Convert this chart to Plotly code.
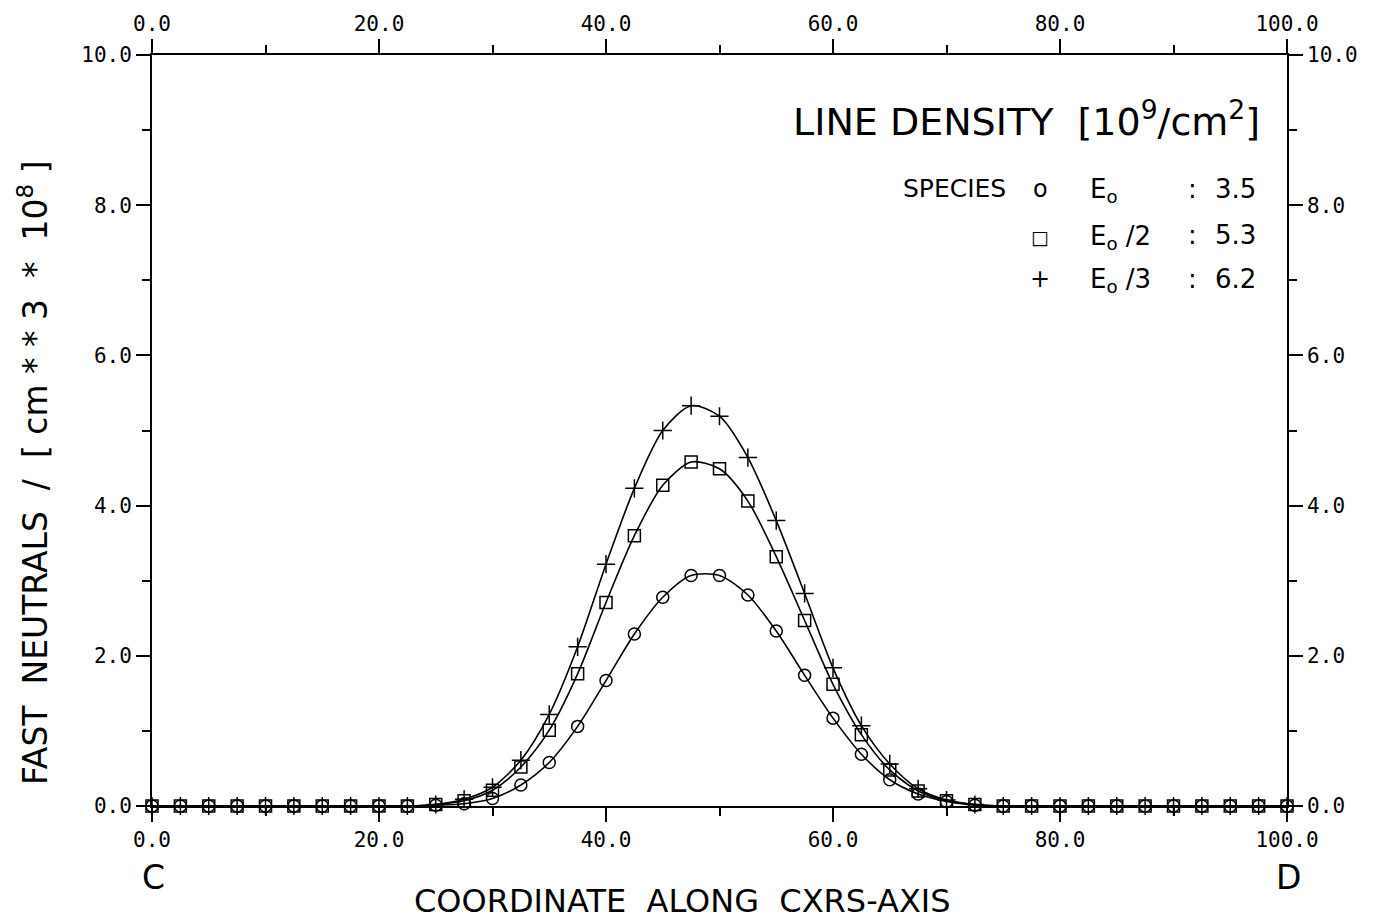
import plotly.graph_objects as go

x_coord = [0.0, 2.5, 5.0, 7.5, 10.0, 12.5, 15.0, 17.5, 20.0, 22.5,
           25.0, 27.5, 30.0, 32.5, 35.0, 37.5, 40.0, 42.5, 45.0, 47.5,
           50.0, 52.5, 55.0, 57.5, 60.0, 62.5, 65.0, 67.5, 70.0, 72.5,
           75.0, 77.5, 80.0, 82.5, 85.0, 87.5, 90.0, 92.5, 95.0, 97.5, 100.0]

e0 = [0, 0, 0, 0, 0, 0, 0, 0, 0, 0,
      0.01, 0.03, 0.10, 0.28, 0.58, 1.06, 1.67, 2.29, 2.78, 3.07,
      3.07, 2.81, 2.33, 1.74, 1.17, 0.69, 0.35, 0.16, 0.06, 0.01,
      0, 0, 0, 0, 0, 0, 0, 0, 0, 0, 0]

e0_2 = [0, 0, 0, 0, 0, 0, 0, 0, 0, 0,
        0.02, 0.07, 0.21, 0.52, 1.01, 1.76, 2.71, 3.60, 4.27, 4.58,
        4.49, 4.06, 3.32, 2.47, 1.62, 0.95, 0.48, 0.20, 0.07, 0.02,
        0, 0, 0, 0, 0, 0, 0, 0, 0, 0, 0]

e0_3 = [0, 0, 0, 0, 0, 0, 0, 0, 0, 0,
        0.02, 0.09, 0.25, 0.61, 1.22, 2.12, 3.22, 4.23, 5.00, 5.33,
        5.19, 4.64, 3.80, 2.83, 1.84, 1.07, 0.56, 0.23, 0.08, 0.02,
        0, 0, 0, 0, 0, 0, 0, 0, 0, 0, 0]

x_ticks = [0, 20, 40, 60, 80, 100]
x_tick_labels = ["0.0", "20.0", "40.0", "60.0", "80.0", "100.0"]
y_ticks = [0, 2, 4, 6, 8, 10]
y_tick_labels = ["0.0", "2.0", "4.0", "6.0", "8.0", "10.0"]

species_symbols = ["o", "\u25a1", "+"]
species_names = ["E<sub>o</sub>", "E<sub>o</sub> /2", "E<sub>o</sub> /3"]
species_density = ["3.5", "5.3", "6.2"]

W, H = 1387, 922
L, R, T, B = 152, 1287, 48, 806

def px(xp):
    return (xp - L) / (R - L)

def py(yp):
    return (B - yp) / (B - T)

fig = go.Figure()

series = [(e0, "circle-open", 12), (e0_2, "square-open", 12), (e0_3, "cross-thin-open", 13)]
for ys, sym, sz in series:
    fig.add_trace(go.Scatter(
        x=x_coord, y=ys, mode="lines+markers", cliponaxis=False,
        line=dict(color="black", width=1.6, shape="spline", smoothing=0.8),
        marker=dict(symbol=sym, size=sz, color="black",
                    line=dict(color="black", width=1.5)),
        showlegend=False, hoverinfo="skip"))

# invisible trace to activate secondary axes
fig.add_trace(go.Scatter(x=[0, 100], y=[0, 10], xaxis="x2", yaxis="y2",
                         mode="markers", marker=dict(opacity=0),
                         showlegend=False, hoverinfo="skip"))

tickfont = dict(family="DejaVu Sans Mono", size=21, color="black")
axis_common = dict(showgrid=False, zeroline=False, showline=True,
                   linecolor="black", linewidth=1.8,
                   ticks="outside", ticklen=14, tickwidth=1.6, tickcolor="black",
                   tickfont=tickfont)
minor_x = dict(tickvals=[10, 30, 50, 70, 90], ticklen=8, tickwidth=1.6,
               tickcolor="black", ticks="outside")
minor_y = dict(tickvals=[1, 3, 5, 7, 9], ticklen=8, tickwidth=1.6,
               tickcolor="black", ticks="outside")

fig.update_layout(
    width=W, height=H,
    margin=dict(l=L, r=W - R, t=T, b=H - B),
    paper_bgcolor="white", plot_bgcolor="white",
    xaxis=dict(range=[0, 100], tickvals=x_ticks, ticktext=x_tick_labels,
               minor=minor_x, **axis_common),
    yaxis=dict(range=[0, 10], tickvals=y_ticks, ticktext=y_tick_labels,
               minor=minor_y, **axis_common),
    xaxis2=dict(range=[0, 100], overlaying="x", side="top", anchor="y",
                tickvals=x_ticks, ticktext=x_tick_labels,
                minor=minor_x, **axis_common),
    yaxis2=dict(range=[0, 10], overlaying="y", side="right", anchor="x",
                tickvals=y_ticks, ticktext=y_tick_labels,
                minor=minor_y, **axis_common),
)

txt = dict(family="DejaVu Sans", color="black")
ann = []
ann.append(dict(x=px(1262), y=py(113), xref="paper", yref="paper",
                text="LINE DENSITY  [10<sup>9</sup>/cm<sup>2</sup>]",
                xanchor="right", yanchor="middle", showarrow=False,
                font=dict(size=38, **txt)))
ann.append(dict(x=px(1008), y=py(183), xref="paper", yref="paper",
                text="SPECIES", xanchor="right", yanchor="middle", showarrow=False,
                font=dict(size=25, **txt)))
rows_y = [183, 230, 274]
for i in range(3):
    ann.append(dict(x=px(1040), y=py(rows_y[i] + (2 if i == 1 else 0)), xref="paper", yref="paper",
                    text=species_symbols[i], xanchor="center", yanchor="middle",
                    showarrow=False, font=dict(size=24 if i != 1 else 19, **txt)))
    ann.append(dict(x=px(1088), y=py(rows_y[i] + 2), xref="paper", yref="paper",
                    text=species_names[i], xanchor="left", yanchor="middle",
                    showarrow=False, font=dict(size=26, **txt)))
    ann.append(dict(x=px(1192), y=py(rows_y[i]), xref="paper", yref="paper",
                    text=":", xanchor="center", yanchor="middle",
                    showarrow=False, font=dict(size=26, **txt)))
    ann.append(dict(x=px(1258), y=py(rows_y[i]), xref="paper", yref="paper",
                    text=species_density[i], xanchor="right", yanchor="middle",
                    showarrow=False, font=dict(size=26, **txt)))

ann.append(dict(x=px(682), y=py(902), xref="paper", yref="paper",
                text="COORDINATE  ALONG  CXRS-AXIS", xanchor="center", yanchor="middle",
                showarrow=False, font=dict(size=32, **txt)))
ann.append(dict(x=px(153), y=py(878), xref="paper", yref="paper",
                text="C", xanchor="center", yanchor="middle",
                showarrow=False, font=dict(size=33, **txt)))
ann.append(dict(x=px(1288), y=py(878), xref="paper", yref="paper",
                text="D", xanchor="center", yanchor="middle",
                showarrow=False, font=dict(size=33, **txt)))
ann.append(dict(x=px(33), y=py(470), xref="paper", yref="paper",
                text="FAST  NEUTRALS  /  [ cm * * 3  *  10<sup>8</sup> ]",
                textangle=-90, xanchor="center", yanchor="middle",
                showarrow=False, font=dict(size=33, **txt)))
fig.update_layout(annotations=ann)

fig.write_html("out.html")
